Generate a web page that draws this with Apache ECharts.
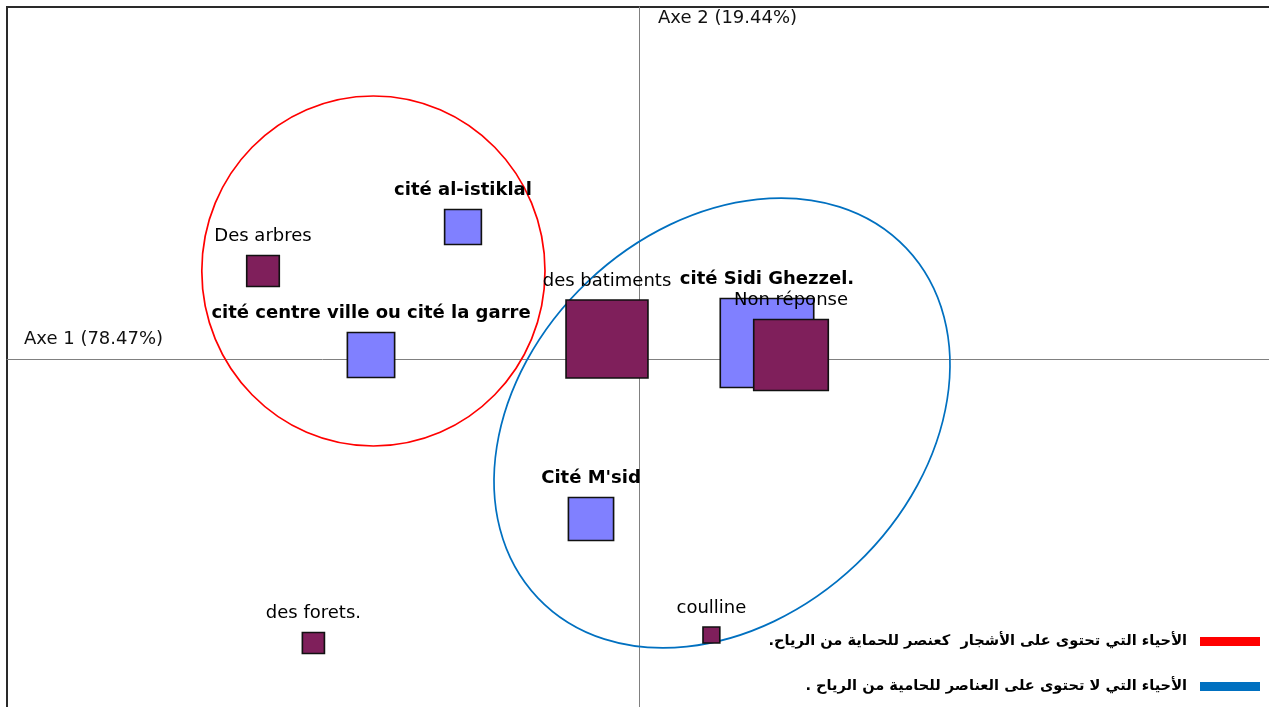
<!DOCTYPE html>
<html>
<head>
<meta charset="utf-8">
<title>AFC – quartiers et éléments de protection contre le vent</title>
<script src="https://cdn.jsdelivr.net/npm/echarts@6/dist/echarts.min.js"></script>
<style>
  html, body { margin: 0; padding: 0; background: #fff; }
  #chart { width: 1269px; height: 707px; }
</style>
</head>
<body>
<div id="chart"></div>
<script>
// Axis titles (share of inertia)
const axisTitles = ['Axe 1 (78.47%)', 'Axe 2 (19.44%)'];

// Row points: neighbourhoods (cités)
const cites = ['cité al-istiklal', 'cité centre ville ou cité la garre', 'cité Sidi Ghezzel.', "Cité M'sid"];
const citeAxe1 = [-0.44, -0.67, 0.32, -0.12];
const citeAxe2 = [0.33, 0.01, 0.04, -0.40];
const citePoids = [3.5, 4.5, 8.9, 4.3];

// Column points: wind-protection elements
const elements = ['Des arbres', 'des batiments', 'Non réponse', 'des forets.', 'coulline'];
const elemAxe1 = [-0.94, -0.08, 0.38, -0.814, 0.181];
const elemAxe2 = [0.22, 0.05, 0.01, -0.71, -0.69];
const elemPoids = [3.1, 7.8, 7.1, 2.1, 1.6];

// Groupings: [centre axe1, centre axe2, demi-axe 1, demi-axe 2, angle en degrés]
const groupes = [
  'الأحياء التي تحتوى على الأشجار  كعنصر للحماية من الرياح.\u200F',
  'الأحياء التي لا تحتوى على العناصر للحامية من الرياح .\u200F'
];
const groupeEllipses = [
  [-0.664, 0.22, 0.429, 0.4375, 0],
  [0.2075, -0.16, 0.635, 0.4875, 43.5]
];
const groupeCouleurs = ['#ff0000', '#0070c0'];

const chart = echarts.init(document.getElementById('chart'));

const latinFont = 'DejaVu Sans';

function pointData(names, a1, a2, w) {
  return names.map((n, i) => ({ name: n, value: [a1[i], a2[i], w[i]] }));
}

function squareSize(val) {
  const h = val[2] * 10;
  return [h * 1.05, h];
}

const ellipseSeries = groupes.map((g, i) => ({
  type: 'custom',
  name: g,
  silent: true,
  itemStyle: { color: groupeCouleurs[i] },
  encode: { x: 0, y: 1 },
  data: [groupeEllipses[i]],
  renderItem: function (params, api) {
    const c = api.coord([api.value(0), api.value(1)]);
    const s = api.size([api.value(2), api.value(3)]);
    return {
      type: 'ellipse',
      x: c[0],
      y: c[1],
      rotation: api.value(4) * Math.PI / 180,
      shape: { cx: 0, cy: 0, rx: s[0], ry: s[1] },
      style: { fill: 'none', stroke: groupeCouleurs[i], lineWidth: 1.7 }
    };
  }
}));

const option = {
  animation: false,
  backgroundColor: '#ffffff',
  grid: {
    left: 7, right: -1, top: 7, bottom: -1,
    show: true,
    borderColor: '#2a2a2a',
    borderWidth: 2,
    outerBoundsMode: 'none',
    containLabel: false
  },
  xAxis: {
    type: 'value',
    min: -1.58, max: 1.5775,
    axisLine: { onZero: true, lineStyle: { color: '#808080', width: 1 } },
    axisTick: { show: false },
    axisLabel: { show: false },
    splitLine: { show: false },
    name: axisTitles[0],
    nameLocation: 'start',
    nameGap: -17,
    nameTextStyle: {
      fontFamily: latinFont, fontSize: 18, color: '#111',
      align: 'left', verticalAlign: 'bottom', lineHeight: 40
    }
  },
  yAxis: {
    type: 'value',
    min: -0.8725, max: 0.88,
    axisLine: { onZero: true, lineStyle: { color: '#808080', width: 1 } },
    axisTick: { show: false },
    axisLabel: { show: false },
    splitLine: { show: false },
    name: axisTitles[1],
    nameLocation: 'end',
    nameGap: -11,
    nameTextStyle: {
      fontFamily: latinFont, fontSize: 18, color: '#111',
      align: 'left', verticalAlign: 'middle', padding: [0, 0, 0, 19]
    }
  },
  legend: {
    orient: 'vertical',
    right: 4,
    top: 629,
    align: 'right',
    itemWidth: 60,
    itemHeight: 9,
    itemGap: 30,
    selectedMode: false,
    icon: 'rect',
    textStyle: {
      fontFamily: latinFont, fontWeight: 'bold', fontSize: 14.6, color: '#000',
      padding: [0, 8, 0, 0]
    },
    data: groupes.map((g, i) => ({ name: g, itemStyle: { color: groupeCouleurs[i] } }))
  },
  series: ellipseSeries.concat([
    {
      type: 'scatter',
      name: 'cites',
      silent: true,
      symbol: 'rect',
      symbolSize: squareSize,
      itemStyle: { color: '#8080ff', borderColor: '#111', borderWidth: 1.6, opacity: 1 },
      label: {
        show: true, position: 'top', distance: 9,
        formatter: '{b}',
        fontFamily: latinFont, fontWeight: 'bold', fontSize: 18, color: '#000', opacity: 1
      },
      data: pointData(cites, citeAxe1, citeAxe2, citePoids)
    },
    {
      type: 'scatter',
      name: 'elements',
      silent: true,
      symbol: 'rect',
      symbolSize: squareSize,
      itemStyle: { color: '#7f1f5b', borderColor: '#111', borderWidth: 1.6, opacity: 1 },
      label: {
        show: true, position: 'top', distance: 9,
        formatter: '{b}',
        fontFamily: latinFont, fontSize: 18, color: '#000', opacity: 1
      },
      data: pointData(elements, elemAxe1, elemAxe2, elemPoids)
    }
  ])
};

chart.setOption(option);
</script>
</body>
</html>
